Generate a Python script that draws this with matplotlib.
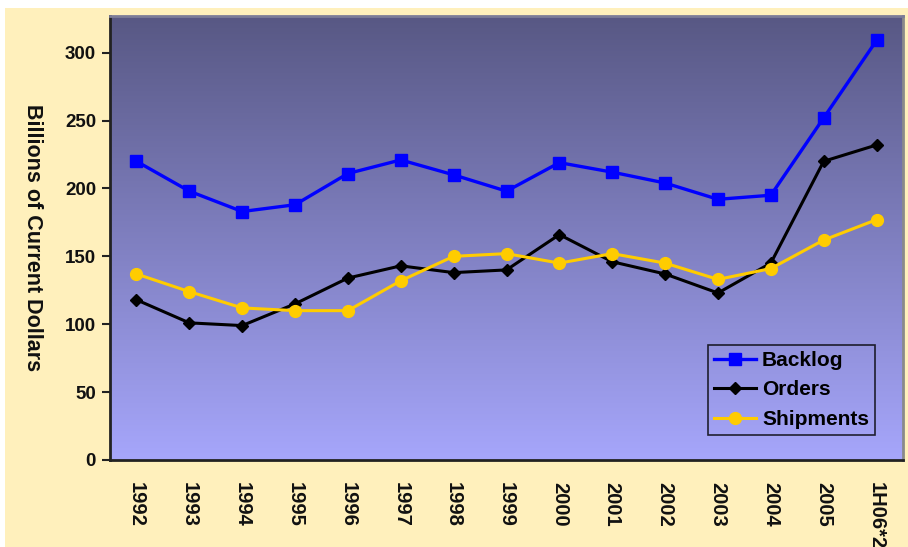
import numpy as np
import matplotlib
matplotlib.use("Agg")
import matplotlib.pyplot as plt
from matplotlib.colors import LinearSegmentedColormap
from matplotlib.patches import Rectangle

categories = ["1992", "1993", "1994", "1995", "1996", "1997", "1998", "1999",
              "2000", "2001", "2002", "2003", "2004", "2005", "1H06*2"]
backlog = [220, 198, 183, 188, 211, 221, 210, 198, 219, 212, 204, 192, 195, 252, 309]
orders = [118, 101, 99, 115, 134, 143, 138, 140, 166, 146, 137, 123, 145, 220, 232]
shipments = [137, 124, 112, 110, 110, 132, 150, 152, 145, 152, 145, 133, 141, 162, 177]
yticks = [0, 50, 100, 150, 200, 250, 300]

plt.rcParams['font.family'] = ['Liberation Sans', 'DejaVu Sans']

W, H = 908, 547
fig = plt.figure(figsize=(W / 100, H / 100), dpi=100)
fig.patch.set_facecolor('white')
fig.patches.append(Rectangle((5 / W, 0), 1 - 5 / W, 1 - 8 / H, transform=fig.transFigure,
                             facecolor='#FFF0BC', edgecolor='none', zorder=-5))

left, right, bottom, top = 110, 903, 460, 16
ax = fig.add_axes([left / W, (H - bottom) / H, (right - left) / W, (bottom - top) / H])
ax.set_zorder(1)

x = np.arange(len(categories))
ymax = 327
ax.set_xlim(-0.5, len(categories) - 0.5)
ax.set_ylim(0, ymax)

cmap = LinearSegmentedColormap.from_list('bg', ['#A6A6FB', '#585884'])
grad = np.linspace(0, 1, 256).reshape(-1, 1)
ax.imshow(grad, cmap=cmap, aspect='auto', origin='lower',
          extent=(-0.5, len(categories) - 0.5, 0, ymax), zorder=0)

ax.plot(x, backlog, color='#0000FF', lw=2.4, marker='s', ms=8, label='Backlog', zorder=3)
ax.plot(x, orders, color='black', lw=2.2, marker='D', ms=6.5, label='Orders', zorder=3)
ax.plot(x, shipments, color='#FFCC00', lw=2.2, marker='o', ms=8.5, label='Shipments', zorder=3)

for s in ['left', 'bottom']:
    ax.spines[s].set_color('#222222')
    ax.spines[s].set_linewidth(2)
ax.spines['top'].set_color('#7C7C98')
ax.spines['top'].set_linewidth(2)
ax.spines['right'].set_color('#8a8a8a')
ax.spines['right'].set_linewidth(2)

ax.set_yticks(yticks)
ax.set_yticklabels([str(v) for v in yticks], fontsize=13.5, fontweight='bold', color='#111111')
ax.set_xticks(x)
ax.set_xticklabels(categories, rotation=-90, fontsize=14.5, fontweight='bold', color='#111111',
                   va='top', ha='center')
ax.tick_params(axis='y', length=6, width=1.5, color='#222222', pad=4)
ax.tick_params(axis='x', length=0, pad=16)

fig.text(32 / W, 1 - 238 / H, 'Billions of Current Dollars', rotation=-90, fontsize=15.5,
         fontweight='bold', color='#111111', ha='center', va='center', zorder=5)

leg = ax.legend(loc='lower right', bbox_to_anchor=(0.965, 0.056), fontsize=15, frameon=True,
                handlelength=2.0, handletextpad=0.3, borderpad=0.3, labelspacing=0.5,
                fancybox=False, borderaxespad=0)
leg.get_frame().set_facecolor('none')
leg.get_frame().set_edgecolor('black')
leg.get_frame().set_linewidth(1.2)
for t in leg.get_texts():
    t.set_fontweight('bold')

fig.savefig('out.png', dpi=100)
